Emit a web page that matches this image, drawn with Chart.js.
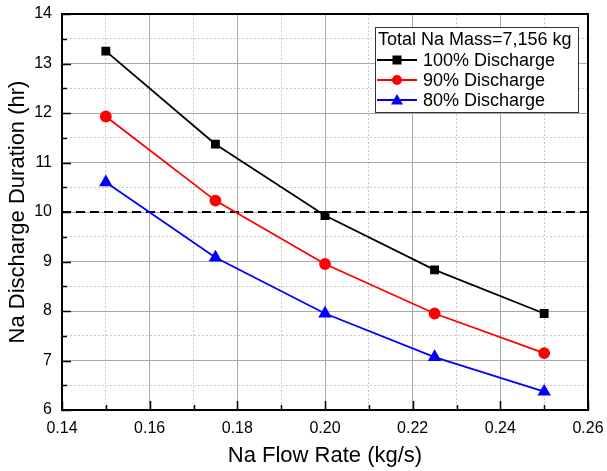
<!DOCTYPE html>
<html>
<head>
<meta charset="utf-8">
<script src="https://cdn.jsdelivr.net/npm/chart.js@4/dist/chart.umd.min.js"></script>
<style>
  html, body { margin: 0; padding: 0; background: #fff; }
  #wrap { width: 607px; height: 471px; }
</style>
</head>
<body>
<div id="wrap"><canvas id="chart" width="607" height="471"></canvas></div>
<script>
// Data
const flowRate = [0.15, 0.175, 0.2, 0.225, 0.25];
const discharge100 = [13.25, 11.37, 9.93, 8.83, 7.95];
const discharge90 = [11.93, 10.23, 8.95, 7.95, 7.15];
const discharge80 = [10.6, 9.08, 7.95, 7.07, 6.37];
const limitHours = 10;
const seriesNames = ["100% Discharge", "90% Discharge", "80% Discharge"];
const legendTitle = "Total Na Mass=7,156 kg";

const xMin = 0.14, xMax = 0.26;
const yMin = 6, yMax = 14;
const FONT = "'Liberation Sans', Arial, sans-serif";

const toPoints = (ys) => ys.map((y, i) => ({ x: flowRate[i], y: y }));

// frame, inward ticks and boxed legend
const decorations = {
  id: "decorations",
  afterDraw(chart) {
    const ctx = chart.ctx;
    const a = chart.chartArea;
    const xs = chart.scales.x, ys = chart.scales.y;
    ctx.save();
    ctx.strokeStyle = "#000";
    ctx.lineWidth = 1.5;
    // inward ticks
    for (let i = 0; i <= 12; i++) {
      const px = Math.round(xs.getPixelForValue(xMin + i * 0.01)) + 0.5;
      const len = i % 2 === 0 ? 9 : 5;
      ctx.beginPath();
      ctx.moveTo(px, a.bottom);
      ctx.lineTo(px, a.bottom - len);
      ctx.stroke();
    }
    for (let i = 0; i <= 16; i++) {
      const py = Math.round(ys.getPixelForValue(yMin + i * 0.5)) + 0.5;
      const len = i % 2 === 0 ? 9 : 5;
      ctx.beginPath();
      ctx.moveTo(a.left, py);
      ctx.lineTo(a.left + len, py);
      ctx.stroke();
    }
    // frame
    ctx.lineWidth = 2;
    ctx.strokeRect(a.left, a.top, a.right - a.left, a.bottom - a.top);

    // legend box
    const bx = 375, by = 27, bw = 203, bh = 85;
    ctx.fillStyle = "#fff";
    ctx.fillRect(bx, by, bw, bh);
    ctx.lineWidth = 1;
    ctx.strokeStyle = "#333";
    ctx.strokeRect(bx + 0.5, by + 0.5, bw, bh);
    ctx.fillStyle = "#000";
    ctx.font = "18px " + FONT;
    ctx.textBaseline = "middle";
    ctx.textAlign = "left";
    ctx.fillText(legendTitle, bx + 3, by + 13);
    const rows = [by + 33, by + 53, by + 73];
    chart.data.datasets.slice(0, 3).forEach((ds, i) => {
      const ry = rows[i];
      ctx.strokeStyle = ds.borderColor;
      ctx.lineWidth = 2;
      ctx.beginPath();
      ctx.moveTo(bx + 2, ry);
      ctx.lineTo(bx + 42, ry);
      ctx.stroke();
      ctx.fillStyle = ds.backgroundColor;
      const cx = bx + 22;
      ctx.beginPath();
      if (ds.pointStyle === "rect") {
        ctx.rect(cx - 4.5, ry - 4.5, 9, 9);
      } else if (ds.pointStyle === "circle") {
        ctx.arc(cx, ry, 5, 0, Math.PI * 2);
      } else {
        ctx.moveTo(cx, ry - 6);
        ctx.lineTo(cx + 6, ry + 4.5);
        ctx.lineTo(cx - 6, ry + 4.5);
        ctx.closePath();
      }
      ctx.fill();
      ctx.fillStyle = "#000";
      ctx.font = "18px " + FONT;
      ctx.fillText(seriesNames[i], bx + 48, ry + 1);
    });
    ctx.restore();
  }
};

const ctx = document.getElementById("chart").getContext("2d");
new Chart(ctx, {
  type: "line",
  data: {
    datasets: [
      {
        label: seriesNames[0],
        data: toPoints(discharge100),
        borderColor: "#000000",
        backgroundColor: "#000000",
        pointStyle: "rect",
        pointRadius: 5,
        borderWidth: 1.8,
      },
      {
        label: seriesNames[1],
        data: toPoints(discharge90),
        borderColor: "#ff0000",
        backgroundColor: "#ff0000",
        pointStyle: "circle",
        pointRadius: 5,
        borderWidth: 1.8,
      },
      {
        label: seriesNames[2],
        data: toPoints(discharge80),
        borderColor: "#0000ff",
        backgroundColor: "#0000ff",
        pointStyle: "triangle",
        pointRadius: 6,
        borderWidth: 1.8,
      },
      {
        label: "limit",
        data: [{ x: xMin, y: limitHours }, { x: xMax, y: limitHours }],
        borderColor: "#000000",
        borderDash: [9, 5],
        borderWidth: 2,
        pointRadius: 0,
      },
    ],
  },
  options: {
    responsive: false,
    animation: false,
    layout: { padding: { top: 14, right: 19, left: 0, bottom: 0 } },
    plugins: {
      legend: { display: false },
      tooltip: { enabled: false },
    },
    scales: {
      xMinor: {
        type: "linear",
        position: "bottom",
        min: xMin,
        max: xMax,
        ticks: { display: false, stepSize: 0.01 },
        grid: {
          drawTicks: false,
          color: (c) => (Math.round(c.tick.value * 100) % 2 === 0 ? "rgba(0,0,0,0)" : "#c8c8c8"),
        },
        border: { display: false, dash: [2, 2] },
        afterFit: (s) => { s.height = 0; s.paddingLeft = 0; s.paddingRight = 0; },
      },
      yMinor: {
        type: "linear",
        position: "left",
        min: yMin,
        max: yMax,
        ticks: { display: false, stepSize: 0.5 },
        grid: {
          drawTicks: false,
          color: (c) => (Number.isInteger(c.tick.value) ? "rgba(0,0,0,0)" : "#c8c8c8"),
        },
        border: { display: false, dash: [2, 2] },
        afterFit: (s) => { s.width = 0; s.paddingTop = 0; s.paddingBottom = 0; },
      },
      x: {
        type: "linear",
        position: "bottom",
        min: xMin,
        max: xMax,
        ticks: {
          stepSize: 0.02,
          padding: 9,
          color: "#000",
          font: { family: FONT, size: 16 },
          callback: (v) => v.toFixed(2),
        },
        grid: { drawTicks: false, color: "#a8a8a8", lineWidth: 1 },
        border: { display: false },
        title: {
          display: true,
          text: "Na Flow Rate (kg/s)",
          color: "#000",
          font: { family: FONT, size: 22 },
          padding: { top: 0, bottom: 2 },
        },
        afterFit: (s) => { s.height = 61; s.paddingLeft = 0; s.paddingRight = 0; },
      },
      y: {
        type: "linear",
        position: "left",
        min: yMin,
        max: yMax,
        ticks: {
          stepSize: 1,
          padding: 10,
          color: "#000",
          font: { family: FONT, size: 16 },
        },
        grid: { drawTicks: false, color: "#a8a8a8", lineWidth: 1 },
        border: { display: false },
        title: {
          display: true,
          text: "Na Discharge Duration (hr)",
          color: "#000",
          font: { family: FONT, size: 22 },
          padding: { top: 5, bottom: 0 },
        },
        afterFit: (s) => { s.width = 62; s.paddingTop = 0; s.paddingBottom = 0; },
      },
    },
  },
  plugins: [decorations],
});
</script>
</body>
</html>
